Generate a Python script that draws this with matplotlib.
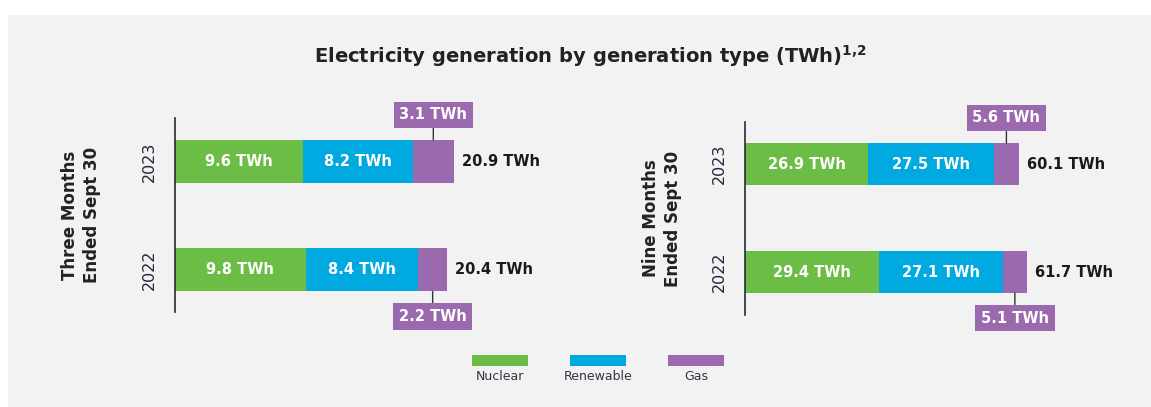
import matplotlib
matplotlib.use("Agg")
import matplotlib.pyplot as plt
from matplotlib.patches import Rectangle

plt.rcParams['font.family'] = ['DejaVu Sans']
plt.rcParams['mathtext.fontset'] = 'dejavusans'

# ---- data (TWh) ----
years = ['2022', '2023']
periods = ['Three Months\nEnded Sept 30', 'Nine Months\nEnded Sept 30']
nuclear_3m = [9.8, 9.6]
renewable_3m = [8.4, 8.2]
gas_3m = [2.2, 3.1]
total_3m = [20.4, 20.9]
nuclear_9m = [29.4, 26.9]
renewable_9m = [27.1, 27.5]
gas_9m = [5.1, 5.6]
total_9m = [61.7, 60.1]
series_names = ['Nuclear', 'Renewable', 'Gas']

GREEN = '#6cbd45'
BLUE = '#00a9e0'
PURPLE = '#9b69ae'
colors = [GREEN, BLUE, PURPLE]

W, H = 1151, 407
fig = plt.figure(figsize=(W / 100, H / 100), dpi=100)
fig.patches.append(Rectangle((8 / W, 0), 1, 1 - 15 / H, transform=fig.transFigure,
                             facecolor='#f2f2f2', edgecolor='none', zorder=-10))


def px_axes(left, top, width, height):
    return fig.add_axes([left / W, 1 - (top + height) / H, width / W, height / H])


fig.text(590 / W, 1 - 56 / H, r'Electricity generation by generation type (TWh)$^{\mathbf{1{,}2}}$',
         ha='center', va='center', fontsize=14, fontweight='bold', color='#222222')


def panel(ax, nuc, ren, gas, tot, period, xmax, ylim, bar_h, lab_x):
    ax.set_facecolor('none')
    y = [0, 1]
    ax.barh(y, nuc, height=bar_h, color=GREEN)
    ax.barh(y, ren, height=bar_h, left=nuc, color=BLUE)
    left3 = [a + b for a, b in zip(nuc, ren)]
    ax.barh(y, gas, height=bar_h, left=left3, color=PURPLE)
    ax.set_xlim(0, xmax)
    ax.set_ylim(*ylim)
    for i in range(2):
        ax.text(nuc[i] / 2, y[i], f'{nuc[i]} TWh', ha='center', va='center',
                color='white', fontsize=10.5, fontweight='bold')
        ax.text(nuc[i] + ren[i] / 2, y[i], f'{ren[i]} TWh', ha='center', va='center',
                color='white', fontsize=10.5, fontweight='bold')
        end = left3[i] + gas[i]
        ax.annotate(f'{tot[i]} TWh', xy=(end, y[i]), xytext=(8, 0), textcoords='offset pixels',
                    ha='left', va='center', fontsize=10.5, fontweight='bold', color='#1a1a1a')
        # gas callout: 2023 above, 2022 below
        sign = 1 if i == 1 else -1
        ax.annotate(f'{gas[i]} TWh', xy=(left3[i] + gas[i] / 2, y[i] + sign * bar_h / 2),
                    xytext=(0, sign * 25), textcoords='offset pixels',
                    ha='center', va='center', fontsize=10.5, fontweight='bold', color='white',
                    bbox=dict(boxstyle='square,pad=0.4', facecolor=PURPLE, edgecolor='none'),
                    arrowprops=dict(arrowstyle='-', color='#333333', lw=1.0,
                                    shrinkA=0, shrinkB=0))
    for s in ['top', 'right', 'bottom']:
        ax.spines[s].set_visible(False)
    ax.spines['left'].set_color('#2a2a2a')
    ax.spines['left'].set_linewidth(1.2)
    ax.set_xticks([])
    ax.set_yticks(y, labels=years, rotation=90, va='center', fontsize=11.5, color='#24243a')
    ax.tick_params(axis='y', length=0, pad=13)
    ax.text(lab_x, 0.5, period, transform=ax.transAxes, rotation=90, ha='center', va='center',
            multialignment='center', fontsize=12, fontweight='bold', color='#222222',
            linespacing=1.3)


ax1 = px_axes(175, 118, 385, 194)
panel(ax1, nuclear_3m, renewable_3m, gas_3m, total_3m, periods[0],
      385 / 13.35, (-0.387, 1.40), 0.396, -0.245)
ax2 = px_axes(745, 122, 385, 193)
panel(ax2, nuclear_9m, renewable_9m, gas_9m, total_9m, periods[1],
      385 / 4.57, (-0.398, 1.389), 0.39, -0.216)

# legend: swatch with name underneath
axl = px_axes(451, 350, 294, 35)
axl.axis('off')
axl.set_xlim(-0.5, 2.5)
axl.set_ylim(0, 35)
axl.bar(range(3), [11] * 3, bottom=19, width=0.57, color=colors)
for i, name in enumerate(series_names):
    axl.text(i, 8, name, ha='center', va='center', fontsize=9, color='#333344')

fig.savefig('out.png', dpi=100)
